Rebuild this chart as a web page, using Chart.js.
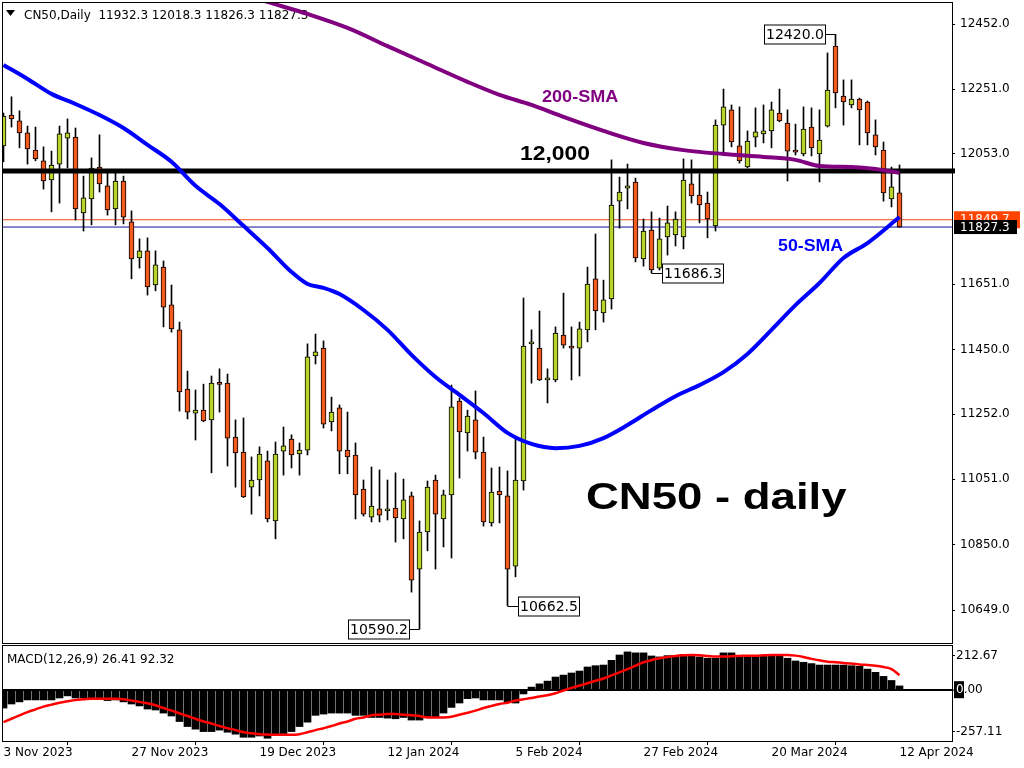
<!DOCTYPE html>
<html>
<head>
<meta charset="utf-8">
<title>CN50 - daily</title>
<script src="https://cdn.jsdelivr.net/npm/chart.js"></script>
<style>
  html, body { margin: 0; padding: 0; background: #fff; }
  body { width: 1024px; height: 768px; position: relative; overflow: hidden; }
  canvas { position: absolute; left: 0; }
  #main { top: 0; }
  #macd { top: 645px; }
  #err { position: absolute; left: 10px; top: 300px; color: red; font: 12px monospace; }
</style>
</head>
<body>
<canvas id="main" width="1024" height="645"></canvas>
<canvas id="macd" width="1024" height="123"></canvas>
<div id="err"></div>
<script>
// daily bars, 3 Nov 2023 .. 12 Apr 2024
const opens = [
  12077, 12172, 12154, 12117, 12064, 12031, 11972, 12021, 12101, 12104,
  11871, 11914, 12012, 11954, 11883, 11969, 11843, 11732, 11754, 11649,
  11704, 11588, 11511, 11329, 11255, 11264, 11234, 11344, 11347, 11181,
  11135, 11027, 11049, 11108, 10923, 11138, 11175, 11129, 11141, 11431,
  11455, 11228, 11271, 11141, 11126, 11021, 10935, 10960, 10954, 10963,
  10929, 11000, 10775, 10889, 11049, 10929, 11003, 11292, 11194, 11234,
  11135, 10917, 11015, 11000, 10784, 11046, 11468, 11455, 11357, 11357,
  11495, 11456, 11455, 11511, 11668, 11563, 11606, 11907, 11947, 11966,
  11729, 11818, 11701, 11797, 11803, 11797, 11960, 11926, 11901, 11831,
  12141, 12188, 12077, 12012, 12104, 12114, 12123, 12178, 12147, 12064,
  12052, 12135, 12052, 12138, 12384, 12230, 12203, 12221, 12212, 12111,
  12064, 11914, 11932.3
];
const highs = [
  12178, 12228, 12185, 12138, 12135, 12074, 12061, 12138, 12160, 12132,
  11984, 12040, 12111, 11994, 11994, 11984, 11877, 11791, 11794, 11754,
  11723, 11649, 11535, 11384, 11326, 11344, 11369, 11391, 11375, 11234,
  11240, 11120, 11151, 11138, 11166, 11212, 11188, 11163, 11468, 11498,
  11477, 11304, 11280, 11258, 11163, 11049, 11089, 11080, 11049, 11071,
  11052, 11012, 10923, 11046, 11064, 11018, 11341, 11301, 11264, 11323,
  11181, 11086, 11089, 11077, 11181, 11609, 11511, 11569, 11391, 11520,
  11624, 11520, 11535, 11704, 11806, 11664, 12034, 11981, 12021, 11978,
  11852, 11874, 11855, 11892, 11874, 12037, 12034, 11991, 11935, 12157,
  12252, 12203, 12197, 12123, 12194, 12203, 12212, 12252, 12188, 12144,
  12197, 12194, 12188, 12363, 12420.0, 12280, 12280, 12224, 12215, 12157,
  12089, 12012, 12018.3
];
const lows = [
  12028, 12135, 12071, 12021, 12031, 11944, 11874, 11901, 12009, 11849,
  11815, 11834, 11935, 11864, 11834, 11837, 11668, 11701, 11618, 11631,
  11520, 11504, 11261, 11237, 11172, 11228, 11071, 11258, 11092, 11027,
  10995, 10944, 11000, 10920, 10868, 11064, 11086, 11064, 11126, 11406,
  11209, 11200, 11068, 11068, 10929, 10938, 10920, 10920, 10926, 10858,
  10868, 10704, 10590.2, 10831, 10775, 10843, 10809, 11055, 11138, 11114,
  10907, 10907, 10917, 10662.5, 10751, 11018, 11347, 11355, 11286, 11351,
  11455, 11357, 11369, 11474, 11511, 11535, 11575, 11824, 11883, 11720,
  11707, 11686.3, 11695, 11741, 11769, 11760, 11901, 11840, 11794, 11815,
  12055, 12074, 12024, 12009, 12074, 12086, 12071, 12151, 11969, 12049,
  12046, 12046, 11966, 12135, 12194, 12141, 12194, 12080, 12080, 12049,
  11907, 11889, 11826.3
];
const closes = [
  12169, 12160, 12117, 12068, 12037, 11969, 12018, 12114, 12117, 11883,
  11917, 12009, 11960, 11880, 11969, 11858, 11729, 11754, 11643, 11711,
  11581, 11514, 11320, 11258, 11264, 11231, 11347, 11343, 11178, 11132,
  10997, 11049, 11129, 10929, 11129, 11154, 11126, 11141, 11428, 11443,
  11221, 11258, 11138, 11120, 11003, 10944, 10969, 10941, 10960, 10932,
  10988, 10741, 10889, 11027, 10944, 11003, 11274, 11197, 11246, 11135,
  10920, 11012, 11003, 10775, 11049, 11461, 11474, 11357, 11363, 11501,
  11464, 11455, 11514, 11652, 11569, 11603, 11895, 11935, 11954, 11732,
  11815, 11695, 11791, 11840, 11852, 11972, 11923, 11895, 11852, 12141,
  12197, 12089, 12031, 12092, 12120, 12123, 12188, 12154, 12061, 12058,
  12129, 12071, 12095, 12249, 12240, 12212, 12221, 12188, 12117, 12074,
  11932, 11951, 11827.3
];

// moving averages at some bars
const sma50Bars = [0, 3, 6, 9, 12, 15, 18, 21, 24, 27, 30, 33, 36, 38, 40, 42, 45, 48, 51, 54,
  57, 60, 63, 66, 69, 72, 75, 78, 81, 84, 87, 90, 93, 96, 99, 102, 105, 108, 112];
const sma50Values = [12326, 12283, 12237, 12206, 12172, 12132, 12080, 12028, 11954, 11898,
  11831, 11763, 11689, 11652, 11640, 11621, 11572, 11511, 11434, 11366,
  11311, 11255, 11194, 11160, 11147, 11154, 11178, 11218, 11264, 11307,
  11341, 11381, 11437, 11511, 11587, 11655, 11732, 11778, 11858];
const sma200Bars = [30, 33, 38, 43, 48, 53, 58, 62, 66, 70, 75, 80, 85, 90, 95, 99, 102, 106, 109, 112];
const sma200Values = [12544, 12520, 12483, 12440, 12384, 12329, 12274, 12234, 12203, 12166,
  12123, 12086, 12064, 12052, 12043, 12034, 12015, 12012, 12006, 11994];

const levelPrice = 12000;
const askPrice = 11849.7;
const bidPrice = 11827.3;

// MACD(12,26,9): main as histogram, signal as line
const macdMain = [
  -110, -85, -72, -60, -60, -60, -60, -48, -35, -48,
  -48, -48, -48, -64, -60, -72, -85, -97, -116, -122,
  -141, -159, -193, -224, -240, -255, -255, -246, -259, -271,
  -290, -290, -282, -296, -271, -267, -255, -224, -197, -155,
  -147, -141, -141, -141, -155, -155, -168, -168, -172, -176,
  -168, -184, -184, -168, -168, -141, -106, -79, -52, -48,
  -60, -60, -60, -72, -79, -23, 19, 39, 56, 81,
  93, 106, 118, 143, 151, 155, 184, 217, 236, 230,
  230, 211, 205, 213, 213, 221, 213, 205, 197, 197,
  230, 230, 211, 211, 211, 213, 217, 213, 197, 180,
  172, 164, 155, 155, 155, 155, 151, 147, 130, 110,
  85, 60, 26.41
];
const macdSignal = [
  -197, -176, -155, -135, -118, -101, -89, -77, -68, -60,
  -56, -52, -52, -52, -52, -56, -64, -72, -81, -93,
  -110, -126, -143, -159, -176, -193, -205, -221, -234, -246,
  -259, -265, -271, -273, -275, -275, -275, -271, -259, -246,
  -234, -221, -205, -193, -176, -168, -155, -151, -147, -147,
  -151, -155, -159, -168, -168, -168, -164, -151, -139, -126,
  -110, -97, -85, -77, -64, -56, -48, -39, -31, -19,
  -2, 14, 29, 43, 58, 72, 91, 110, 130, 151,
  172, 186, 197, 205, 211, 215, 217, 215, 211, 207,
  207, 209, 211, 213, 213, 215, 217, 217, 217, 213,
  205, 193, 184, 176, 172, 168, 164, 159, 155, 151,
  143, 130, 92.32
];

const priceTicks = [12452.0, 12251.0, 12053.0, 11651.0, 11450.0, 11252.0, 11051.0, 10850.0, 10649.0];
const macdTicks = [212.67, 0.00, -257.11];
const dateTickBars = [0, 16, 32, 48, 64, 80, 96, 112];
const dateTickLabels = ['3 Nov 2023', '27 Nov 2023', '19 Dec 2023', '12 Jan 2024',
  '5 Feb 2024', '27 Feb 2024', '20 Mar 2024', '12 Apr 2024'];

// labelled extremes
const markBars = [104, 81, 52, 63];
const markValues = [12420.0, 11686.3, 10590.2, 10662.5];
const markSides = ['left', 'right', 'left', 'right'];

const X_MIN = -0.1875, X_MAX = 118.5625;
const upColor = '#b8d42a';
const downColor = '#f25a1e';
const tickFont = {family: "'DejaVu Sans', sans-serif", size: 12};

function stretchText(ctx, text, x, y, font, color, sx) {
  ctx.save();
  ctx.font = font;
  ctx.fillStyle = color;
  ctx.textBaseline = 'alphabetic';
  ctx.textAlign = 'left';
  ctx.translate(x, y);
  ctx.scale(sx, 1);
  ctx.fillText(text, 0, 0);
  ctx.restore();
}

function drawMark(ctx, chart, bar, value, side) {
  const px = Math.floor(chart.scales.x.getPixelForValue(bar)) + 0.5;
  const py = Math.round(chart.scales.y.getPixelForValue(value)) + 0.5;
  const w = 61, h = 19;
  const bx = side === 'left' ? px - 10 - w : px + 11;
  ctx.save();
  ctx.lineWidth = 1;
  ctx.strokeStyle = '#000';
  ctx.beginPath();
  ctx.moveTo(side === 'left' ? bx + w : bx, py);
  ctx.lineTo(px, py);
  ctx.stroke();
  ctx.fillStyle = '#fff';
  ctx.fillRect(bx, py - 9.5, w, h);
  ctx.strokeRect(bx, py - 9.5, w, h);
  ctx.fillStyle = '#000';
  ctx.font = "14px 'DejaVu Sans'";
  ctx.textAlign = 'center';
  ctx.textBaseline = 'middle';
  ctx.fillText(value.toFixed(1), bx + w / 2, py + 1);
  ctx.restore();
}

const mainDecor = {
  id: 'mainDecor',
  beforeDatasetsDraw(chart) {
    const ctx = chart.ctx;
    const n = closes.length - 1;
    ctx.save();
    ctx.fillStyle = '#000';
    ctx.beginPath();
    ctx.moveTo(6, 10);
    ctx.lineTo(15, 10);
    ctx.lineTo(10.5, 16);
    ctx.closePath();
    ctx.fill();
    ctx.font = "12px 'DejaVu Sans'";
    ctx.textBaseline = 'alphabetic';
    ctx.fillText('CN50,Daily  ' + [opens[n], highs[n], lows[n], closes[n]].map(v => v.toFixed(1)).join(' '), 24, 19);
    ctx.restore();
  },
  afterDatasetsDraw(chart) {
    const ctx = chart.ctx;
    stretchText(ctx, '200-SMA', 542, 102, "bold 16px 'Liberation Sans'", '#800080', 1.13);
    stretchText(ctx, '12,000', 520, 160, "bold 21px 'Liberation Sans'", '#000', 1.09);
    stretchText(ctx, '50-SMA', 778, 251, "bold 16px 'Liberation Sans'", '#0000ff', 1.11);
    stretchText(ctx, 'CN50 - daily', 586, 509, "bold 37px 'Liberation Sans'", '#000', 1.23);
    markBars.forEach((b, i) => drawMark(ctx, chart, b, markValues[i], markSides[i]));
  },
  afterDraw(chart) {
    const ctx = chart.ctx;
    const a = chart.chartArea;
    const ys = chart.scales.y;
    ctx.save();
    ctx.strokeStyle = '#000';
    ctx.lineWidth = 1;
    ctx.strokeRect(a.left + 0.5, a.top + 0.5, a.right - a.left, a.bottom - a.top);
    // level line runs a few pixels past the frame
    const lvY = ys.getPixelForValue(levelPrice);
    ctx.fillStyle = '#000';
    ctx.fillRect(a.right, lvY - 2.5, 3, 5);
    const askY = ys.getPixelForValue(askPrice);
    const bidY = ys.getPixelForValue(bidPrice);
    ctx.font = "12px 'DejaVu Sans'";
    ctx.textBaseline = 'middle';
    ctx.fillStyle = '#ff4500';
    ctx.fillRect(a.right + 2, askY - 8.5, 66, 17);
    ctx.fillStyle = '#fff';
    ctx.fillText(askPrice.toFixed(1), a.right + 8, askY);
    ctx.fillStyle = '#000';
    ctx.fillRect(a.right + 2, bidY - 7, 63, 14);
    ctx.fillStyle = '#fff';
    ctx.fillText(bidPrice.toFixed(1), a.right + 8, bidY + 0.5);
    ctx.restore();
  }
};

const macdDecor = {
  id: 'macdDecor',
  beforeDraw(chart) {
    const ctx = chart.ctx;
    const zeroY = chart.scales.y.getPixelForValue(0);
    ctx.save();
    ctx.fillStyle = '#000';
    ctx.fillRect(chart.chartArea.right + 2, zeroY - 9, 10, 17);
    ctx.restore();
  },
  afterDraw(chart) {
    const ctx = chart.ctx;
    const a = chart.chartArea;
    const n = macdMain.length - 1;
    const zeroY = chart.scales.y.getPixelForValue(0);
    ctx.save();
    ctx.strokeStyle = '#000';
    ctx.lineWidth = 1;
    ctx.strokeRect(a.left + 0.5, a.top + 0.5, a.right - a.left, a.bottom - a.top);
    ctx.fillStyle = '#000';
    ctx.font = "12px 'DejaVu Sans'";
    ctx.textBaseline = 'alphabetic';
    ctx.fillText('MACD(12,26,9) ' + macdMain[n].toFixed(2) + ' ' + macdSignal[n].toFixed(2), 7, 18);
    // the part of the zero label over the black marker shows white
    ctx.beginPath();
    ctx.rect(a.right + 2, zeroY - 9, 10, 17);
    ctx.clip();
    ctx.fillStyle = '#fff';
    ctx.textBaseline = 'middle';
    ctx.fillText((0).toFixed(2), a.right + 4, zeroY);
    ctx.restore();
  }
};

function drawCharts() {
  const bodies = opens.map((o, i) => ({x: i, y: [o, closes[i]]}));
  const wicks = lows.map((l, i) => ({x: i, y: [l, highs[i]]}));
  const bodyColors = opens.map((o, i) => closes[i] >= o ? upColor : downColor);
  const flat = v => [{x: X_MIN, y: v}, {x: X_MAX, y: v}];

  new Chart(document.getElementById('main'), {
    type: 'bar',
    data: {
      datasets: [
        {type: 'line', label: '50-SMA', data: sma50Bars.map((b, i) => ({x: b, y: sma50Values[i]})),
          borderColor: '#0000ff', borderWidth: 4, pointRadius: 0, cubicInterpolationMode: 'monotone', order: 0},
        {type: 'line', label: '200-SMA', data: sma200Bars.map((b, i) => ({x: b, y: sma200Values[i]})),
          borderColor: '#800080', borderWidth: 4, pointRadius: 0, cubicInterpolationMode: 'monotone', order: 0},
        {type: 'line', label: '12,000', data: flat(levelPrice),
          borderColor: '#000', borderWidth: 5, pointRadius: 0, order: 1},
        {type: 'bar', label: 'body', data: bodies, backgroundColor: bodyColors,
          borderColor: '#000', borderWidth: 1, borderSkipped: false,
          barThickness: 5, maxBarThickness: 5, minBarLength: 2, grouped: false, order: 2},
        {type: 'bar', label: 'wick', data: wicks, backgroundColor: '#000',
          barThickness: 1, maxBarThickness: 1, grouped: false, order: 3},
        {type: 'line', label: 'ask', data: flat(askPrice),
          borderColor: '#f04a1a', borderWidth: 1, pointRadius: 0, order: 4},
        {type: 'line', label: 'bid', data: flat(bidPrice),
          borderColor: '#10109a', borderWidth: 1, pointRadius: 0, order: 4}
      ]
    },
    options: {
      responsive: false,
      animation: false,
      devicePixelRatio: 1,
      events: [],
      layout: {padding: {left: 2, top: 2, right: 0, bottom: 2}},
      plugins: {legend: {display: false}, tooltip: {enabled: false}},
      scales: {
        x: {type: 'linear', display: false, min: X_MIN, max: X_MAX, offset: false},
        y: {
          type: 'linear', position: 'right', min: 10547.5, max: 12519.7, beginAtZero: false,
          afterBuildTicks: s => { s.ticks = priceTicks.map(v => ({value: v})); },
          afterFit: s => { s.width = 72; s.paddingTop = 0; s.paddingBottom = 0; },
          grid: {drawOnChartArea: false, tickLength: 3, color: '#000'},
          border: {display: false},
          ticks: {padding: 5, color: '#000', font: tickFont, callback: v => Number(v).toFixed(1)}
        }
      }
    },
    plugins: [mainDecor]
  });

  new Chart(document.getElementById('macd'), {
    type: 'bar',
    data: {
      datasets: [
        {type: 'line', label: 'Signal', data: macdSignal.map((v, i) => ({x: i, y: v})),
          borderColor: '#ff0000', borderWidth: 2.5, pointRadius: 0, cubicInterpolationMode: 'monotone', order: 0},
        {type: 'bar', label: 'MACD', data: macdMain.map((v, i) => ({x: i, y: v})),
          backgroundColor: '#000', barThickness: 7, maxBarThickness: 7, grouped: false, order: 1}
      ]
    },
    options: {
      responsive: false,
      animation: false,
      devicePixelRatio: 1,
      events: [],
      layout: {padding: {left: 2, top: 0, right: 0, bottom: 0}},
      plugins: {legend: {display: false}, tooltip: {enabled: false}},
      scales: {
        x: {
          type: 'linear', position: 'bottom', min: X_MIN, max: X_MAX, offset: false,
          afterBuildTicks: s => { s.ticks = dateTickBars.map(v => ({value: v})); },
          afterFit: s => { s.height = 27; s.paddingLeft = 0; s.paddingRight = 0; },
          grid: {drawOnChartArea: false, tickLength: 4, color: '#000'},
          border: {display: false},
          ticks: {align: 'start', padding: 1, autoSkip: false, maxRotation: 0, color: '#000', font: tickFont,
            callback: v => dateTickLabels[dateTickBars.indexOf(v)]}
        },
        y: {
          type: 'linear', position: 'right', min: -313, max: 278.5, beginAtZero: false,
          afterBuildTicks: s => { s.ticks = macdTicks.map(v => ({value: v})); },
          afterFit: s => { s.width = 72; s.paddingTop = 0; s.paddingBottom = 0; },
          grid: {
            drawOnChartArea: true, tickLength: 3, tickColor: '#000', tickWidth: 1,
            color: c => (c.tick && c.tick.value === 0) ? '#000' : 'rgba(0,0,0,0)',
            lineWidth: c => (c.tick && c.tick.value === 0) ? 2 : 1
          },
          border: {display: false},
          ticks: {padding: 1, color: '#000', font: tickFont, callback: v => Number(v).toFixed(2)}
        }
      }
    },
    plugins: [macdDecor]
  });
}

try {
  drawCharts();
} catch (e) {
  document.getElementById('err').textContent = String(e && e.stack || e);
}
</script>
</body>
</html>
